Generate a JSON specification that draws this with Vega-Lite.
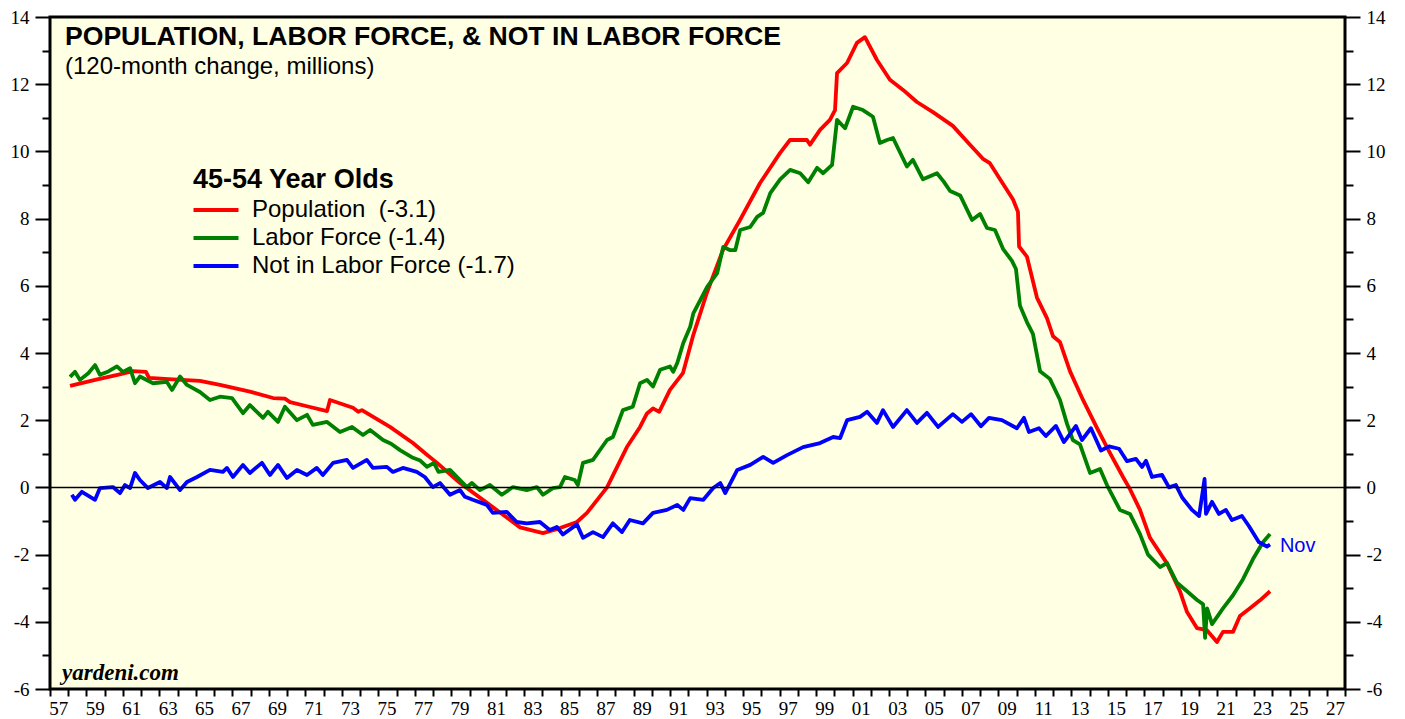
{
"$schema": "https://vega.github.io/schema/vega-lite/v6.json",
"width": 1295, "height": 672,
"autosize": {"type": "none"},
"padding": {"left": 50, "top": 17, "right": 60, "bottom": 30},
"background": "#FFFFFF",
"config": {
  "view": {"stroke": "#000000", "strokeWidth": 3, "fill": "#FFFFE4"},
  "axis": {"domain": false, "grid": false, "labelFont": "Liberation Serif", "labelFontSize": 19, "labelColor": "#000000", "tickColor": "#000000", "tickWidth": 2, "title": null, "labelFlush": false, "labelBound": false, "labelSeparation": 0},
  "legend": {"orient": "none", "legendX": 143, "legendY": 150, "padding": 0, "titleFont": "Liberation Sans", "titleFontSize": 27, "titleFontWeight": "bold", "titleColor": "#000000", "titlePadding": 4, "titleLimit": 600, "labelFont": "Liberation Sans", "labelFontSize": 24, "labelColor": "#000000", "symbolType": "M-5,0H5", "symbolSize": 81, "symbolStrokeWidth": 4, "symbolOffset": 11, "labelOffset": 24, "rowPadding": 4, "labelLimit": 600}
},
"datasets": {
"pop": [
{"year":1958.1,"value":3.02},{"year":1959.47,"value":3.2},{"year":1960.7,"value":3.35},{"year":1961.55,"value":3.46},{"year":1962.26,"value":3.44},{"year":1962.43,"value":3.26},{"year":1963.5,"value":3.22},{"year":1965.22,"value":3.17},{"year":1966.32,"value":3.05},{"year":1967.96,"value":2.85},{"year":1969.23,"value":2.66},{"year":1969.88,"value":2.64},{"year":1970.16,"value":2.54},{"year":1971.2,"value":2.4},{"year":1972.19,"value":2.27},{"year":1972.35,"value":2.6},{"year":1973.61,"value":2.37},{"year":1973.9,"value":2.25},{"year":1974.1,"value":2.3},{"year":1975.64,"value":1.8},{"year":1976.9,"value":1.32},{"year":1977.6,"value":1.0},{"year":1978.22,"value":0.73},{"year":1979.48,"value":0.13},{"year":1980.96,"value":-0.46},{"year":1982.77,"value":-1.19},{"year":1984.03,"value":-1.36},{"year":1984.96,"value":-1.21},{"year":1985.89,"value":-1.03},{"year":1986.44,"value":-0.76},{"year":1987.54,"value":0.0},{"year":1988.63,"value":1.2},{"year":1989.35,"value":1.8},{"year":1989.73,"value":2.2},{"year":1990.06,"value":2.35},{"year":1990.4,"value":2.25},{"year":1990.99,"value":2.9},{"year":1991.7,"value":3.4},{"year":1992.25,"value":4.5},{"year":1993.02,"value":5.8},{"year":1993.9,"value":7.07},{"year":1994.83,"value":7.96},{"year":1995.93,"value":9.06},{"year":1997.02,"value":9.95},{"year":1997.57,"value":10.34},{"year":1998.5,"value":10.34},{"year":1998.67,"value":10.2},{"year":1999.22,"value":10.64},{"year":1999.76,"value":10.94},{"year":2000.04,"value":11.23},{"year":2000.15,"value":12.33},{"year":2000.7,"value":12.63},{"year":2001.24,"value":13.23},{"year":2001.68,"value":13.4},{"year":2002.34,"value":12.72},{"year":2003.05,"value":12.13},{"year":2003.77,"value":11.83},{"year":2004.53,"value":11.47},{"year":2005.41,"value":11.17},{"year":2006.5,"value":10.76},{"year":2007.44,"value":10.2},{"year":2008.15,"value":9.78},{"year":2008.53,"value":9.65},{"year":2009.08,"value":9.18},{"year":2009.8,"value":8.57},{"year":2010.07,"value":8.2},{"year":2010.13,"value":7.17},{"year":2010.56,"value":6.87},{"year":2011.11,"value":5.65},{"year":2011.66,"value":5.04},{"year":2011.99,"value":4.5},{"year":2012.37,"value":4.33},{"year":2012.92,"value":3.46},{"year":2013.63,"value":2.61},{"year":2014.4,"value":1.77},{"year":2015.11,"value":1.03},{"year":2015.83,"value":0.31},{"year":2016.21,"value":-0.05},{"year":2016.76,"value":-0.67},{"year":2017.31,"value":-1.5},{"year":2018.24,"value":-2.26},{"year":2018.95,"value":-3.09},{"year":2019.34,"value":-3.71},{"year":2019.89,"value":-4.19},{"year":2020.43,"value":-4.25},{"year":2020.98,"value":-4.6},{"year":2021.31,"value":-4.3},{"year":2021.86,"value":-4.3},{"year":2022.24,"value":-3.83},{"year":2022.79,"value":-3.6},{"year":2023.34,"value":-3.36},{"year":2023.89,"value":-3.09}
],
"lab": [
{"year":1958.1,"value":3.29},{"year":1958.37,"value":3.44},{"year":1958.64,"value":3.2},{"year":1959.1,"value":3.4},{"year":1959.47,"value":3.64},{"year":1959.74,"value":3.35},{"year":1960.2,"value":3.45},{"year":1960.67,"value":3.6},{"year":1961.0,"value":3.44},{"year":1961.39,"value":3.55},{"year":1961.66,"value":3.1},{"year":1961.93,"value":3.3},{"year":1962.65,"value":3.1},{"year":1963.41,"value":3.14},{"year":1963.69,"value":2.9},{"year":1964.13,"value":3.3},{"year":1964.51,"value":3.05},{"year":1965.22,"value":2.84},{"year":1965.77,"value":2.6},{"year":1966.32,"value":2.7},{"year":1966.98,"value":2.66},{"year":1967.58,"value":2.21},{"year":1967.96,"value":2.45},{"year":1968.68,"value":2.07},{"year":1968.95,"value":2.25},{"year":1969.5,"value":1.95},{"year":1969.88,"value":2.4},{"year":1970.54,"value":2.0},{"year":1971.09,"value":2.16},{"year":1971.41,"value":1.86},{"year":1972.19,"value":1.95},{"year":1972.9,"value":1.65},{"year":1973.56,"value":1.8},{"year":1974.16,"value":1.56},{"year":1974.55,"value":1.71},{"year":1975.26,"value":1.41},{"year":1975.7,"value":1.3},{"year":1976.19,"value":1.11},{"year":1976.9,"value":0.88},{"year":1977.3,"value":0.8},{"year":1977.67,"value":0.61},{"year":1978.05,"value":0.73},{"year":1978.3,"value":0.46},{"year":1978.93,"value":0.52},{"year":1979.48,"value":0.22},{"year":1979.86,"value":0.01},{"year":1980.13,"value":0.13},{"year":1980.57,"value":-0.08},{"year":1981.12,"value":0.07},{"year":1981.77,"value":-0.22},{"year":1982.38,"value":0.01},{"year":1983.14,"value":-0.08},{"year":1983.69,"value":0.01},{"year":1984.03,"value":-0.22},{"year":1984.57,"value":-0.02},{"year":1984.96,"value":0.01},{"year":1985.23,"value":0.31},{"year":1985.77,"value":0.22},{"year":1985.94,"value":0.07},{"year":1986.22,"value":0.73},{"year":1986.77,"value":0.82},{"year":1987.54,"value":1.41},{"year":1987.86,"value":1.5},{"year":1988.41,"value":2.3},{"year":1988.95,"value":2.4},{"year":1989.35,"value":3.1},{"year":1989.73,"value":3.2},{"year":1990.06,"value":3.0},{"year":1990.45,"value":3.5},{"year":1990.99,"value":3.6},{"year":1991.17,"value":3.44},{"year":1991.39,"value":3.7},{"year":1991.72,"value":4.3},{"year":1992.1,"value":4.78},{"year":1992.27,"value":5.18},{"year":1992.65,"value":5.57},{"year":1993.03,"value":5.97},{"year":1993.58,"value":6.38},{"year":1993.91,"value":7.16},{"year":1994.29,"value":7.06},{"year":1994.57,"value":7.06},{"year":1994.84,"value":7.66},{"year":1995.39,"value":7.75},{"year":1995.77,"value":8.05},{"year":1996.1,"value":8.17},{"year":1996.49,"value":8.76},{"year":1997.03,"value":9.17},{"year":1997.58,"value":9.45},{"year":1998.13,"value":9.35},{"year":1998.57,"value":9.08},{"year":1999.06,"value":9.51},{"year":1999.39,"value":9.35},{"year":1999.88,"value":9.6},{"year":2000.15,"value":10.94},{"year":2000.59,"value":10.69},{"year":2001.03,"value":11.33},{"year":2001.57,"value":11.23},{"year":2002.12,"value":11.03},{"year":2002.5,"value":10.25},{"year":2002.89,"value":10.34},{"year":2003.22,"value":10.4},{"year":2003.98,"value":9.55},{"year":2004.31,"value":9.75},{"year":2004.86,"value":9.17},{"year":2005.63,"value":9.35},{"year":2006.0,"value":9.1},{"year":2006.35,"value":8.82},{"year":2006.9,"value":8.69},{"year":2007.55,"value":7.96},{"year":2007.99,"value":8.14},{"year":2008.37,"value":7.72},{"year":2008.81,"value":7.66},{"year":2009.25,"value":7.1},{"year":2009.74,"value":6.74},{"year":2009.96,"value":6.5},{"year":2010.18,"value":5.41},{"year":2010.56,"value":4.92},{"year":2010.89,"value":4.57},{"year":2011.28,"value":3.46},{"year":2011.82,"value":3.23},{"year":2012.37,"value":2.61},{"year":2012.76,"value":1.89},{"year":2013.08,"value":1.41},{"year":2013.47,"value":1.28},{"year":2014.02,"value":0.43},{"year":2014.57,"value":0.55},{"year":2014.95,"value":0.07},{"year":2015.66,"value":-0.67},{"year":2016.21,"value":-0.79},{"year":2016.76,"value":-1.39},{"year":2017.2,"value":-2.0},{"year":2017.86,"value":-2.37},{"year":2018.24,"value":-2.25},{"year":2018.79,"value":-2.84},{"year":2019.34,"value":-3.09},{"year":2019.89,"value":-3.35},{"year":2020.22,"value":-3.48},{"year":2020.33,"value":-4.48},{"year":2020.44,"value":-3.6},{"year":2020.71,"value":-4.07},{"year":2021.31,"value":-3.6},{"year":2021.86,"value":-3.21},{"year":2022.4,"value":-2.74},{"year":2022.95,"value":-2.14},{"year":2023.5,"value":-1.63},{"year":2023.89,"value":-1.39}
],
"nlf": [
{"year":1958.2,"value":-0.22},{"year":1958.37,"value":-0.37},{"year":1958.75,"value":-0.13},{"year":1959.47,"value":-0.37},{"year":1959.74,"value":-0.02},{"year":1960.45,"value":0.01},{"year":1960.84,"value":-0.17},{"year":1961.11,"value":0.07},{"year":1961.39,"value":-0.02},{"year":1961.66,"value":0.43},{"year":1961.93,"value":0.22},{"year":1962.37,"value":-0.02},{"year":1963.03,"value":0.16},{"year":1963.41,"value":-0.02},{"year":1963.58,"value":0.31},{"year":1964.13,"value":-0.08},{"year":1964.51,"value":0.16},{"year":1965.06,"value":0.31},{"year":1965.77,"value":0.52},{"year":1966.48,"value":0.46},{"year":1966.7,"value":0.58},{"year":1967.03,"value":0.31},{"year":1967.58,"value":0.67},{"year":1967.96,"value":0.43},{"year":1968.62,"value":0.73},{"year":1969.06,"value":0.37},{"year":1969.5,"value":0.67},{"year":1969.99,"value":0.28},{"year":1970.54,"value":0.52},{"year":1971.09,"value":0.37},{"year":1971.63,"value":0.58},{"year":1971.96,"value":0.37},{"year":1972.52,"value":0.73},{"year":1973.28,"value":0.82},{"year":1973.61,"value":0.58},{"year":1974.37,"value":0.82},{"year":1974.7,"value":0.58},{"year":1975.47,"value":0.61},{"year":1975.8,"value":0.46},{"year":1976.35,"value":0.58},{"year":1977.11,"value":0.46},{"year":1977.55,"value":0.31},{"year":1977.99,"value":0.01},{"year":1978.38,"value":0.13},{"year":1978.93,"value":-0.22},{"year":1979.48,"value":-0.08},{"year":1979.75,"value":-0.28},{"year":1980.18,"value":-0.37},{"year":1980.95,"value":-0.52},{"year":1981.28,"value":-0.76},{"year":1982.04,"value":-0.73},{"year":1982.59,"value":-1.03},{"year":1983.14,"value":-1.07},{"year":1983.86,"value":-1.03},{"year":1984.4,"value":-1.27},{"year":1984.79,"value":-1.18},{"year":1985.12,"value":-1.4},{"year":1985.89,"value":-1.1},{"year":1986.22,"value":-1.5},{"year":1986.77,"value":-1.33},{"year":1987.32,"value":-1.48},{"year":1987.86,"value":-1.07},{"year":1988.36,"value":-1.33},{"year":1988.79,"value":-0.97},{"year":1989.51,"value":-1.07},{"year":1990.06,"value":-0.76},{"year":1990.82,"value":-0.67},{"year":1991.39,"value":-0.52},{"year":1991.72,"value":-0.67},{"year":1992.1,"value":-0.32},{"year":1992.82,"value":-0.37},{"year":1993.36,"value":-0.02},{"year":1993.75,"value":0.13},{"year":1994.02,"value":-0.17},{"year":1994.68,"value":0.52},{"year":1995.39,"value":0.67},{"year":1996.1,"value":0.91},{"year":1996.65,"value":0.73},{"year":1997.41,"value":0.96},{"year":1998.29,"value":1.2},{"year":1999.22,"value":1.32},{"year":1999.94,"value":1.5},{"year":2000.32,"value":1.47},{"year":2000.7,"value":2.0},{"year":2001.41,"value":2.1},{"year":2001.8,"value":2.25},{"year":2002.34,"value":1.92},{"year":2002.67,"value":2.3},{"year":2003.22,"value":1.8},{"year":2003.98,"value":2.3},{"year":2004.53,"value":1.92},{"year":2005.08,"value":2.22},{"year":2005.69,"value":1.8},{"year":2006.5,"value":2.18},{"year":2007.0,"value":1.95},{"year":2007.5,"value":2.18},{"year":2008.04,"value":1.82},{"year":2008.48,"value":2.07},{"year":2009.19,"value":2.0},{"year":2010.01,"value":1.76},{"year":2010.4,"value":2.07},{"year":2010.67,"value":1.65},{"year":2011.22,"value":1.76},{"year":2011.6,"value":1.53},{"year":2012.15,"value":1.83},{"year":2012.59,"value":1.35},{"year":2013.25,"value":1.83},{"year":2013.58,"value":1.41},{"year":2014.07,"value":1.76},{"year":2014.62,"value":1.1},{"year":2015.06,"value":1.22},{"year":2015.61,"value":1.15},{"year":2016.05,"value":0.78},{"year":2016.54,"value":0.85},{"year":2016.87,"value":0.61},{"year":2017.09,"value":0.79},{"year":2017.42,"value":0.31},{"year":2017.97,"value":0.37},{"year":2018.35,"value":0.0},{"year":2018.73,"value":0.07},{"year":2019.07,"value":-0.3},{"year":2019.61,"value":-0.67},{"year":2020.0,"value":-0.85},{"year":2020.3,"value":0.25},{"year":2020.38,"value":-0.79},{"year":2020.71,"value":-0.43},{"year":2021.09,"value":-0.79},{"year":2021.47,"value":-0.67},{"year":2021.8,"value":-0.97},{"year":2022.35,"value":-0.85},{"year":2022.73,"value":-1.15},{"year":2023.28,"value":-1.63},{"year":2023.72,"value":-1.76},{"year":2023.89,"value":-1.7}
]
},
"layer": [
  {"data": {"name": "pop"},
   "mark": {"type": "line", "strokeWidth": 3.8, "strokeJoin": "round"},
   "encoding": {
     "x": {"field": "year", "type": "quantitative", "scale": {"domain": [1957, 2028], "nice": false, "zero": false},
       "axis": {"orient": "bottom", "values": [1957,1958,1959,1960,1961,1962,1963,1964,1965,1966,1967,1968,1969,1970,1971,1972,1973,1974,1975,1976,1977,1978,1979,1980,1981,1982,1983,1984,1985,1986,1987,1988,1989,1990,1991,1992,1993,1994,1995,1996,1997,1998,1999,2000,2001,2002,2003,2004,2005,2006,2007,2008,2009,2010,2011,2012,2013,2014,2015,2016,2017,2018,2019,2020,2021,2022,2023,2024,2025,2026,2027,2028],
         "tickSize": 7, "labels": false}},
     "y": {"field": "value", "type": "quantitative", "scale": {"domain": [-6, 14], "nice": false, "zero": false},
       "axis": {"orient": "left", "values": [-6,-5,-4,-3,-2,-1,0,1,2,3,4,5,6,7,8,9,10,11,12,13,14],
         "tickSize": {"condition": {"test": "datum.value % 2 === 0", "value": 15}, "value": 8},
         "labelPadding": 6, "labelOverlap": false,
         "labelExpr": "datum.value % 2 === 0 ? '' + datum.value : ''"}},
     "color": {"datum": "Population\u00a0\u00a0(-3.1)", "type": "nominal",
       "scale": {"domain": ["Population\u00a0\u00a0(-3.1)", "Labor Force (-1.4)", "Not in Labor Force (-1.7)"], "range": ["#FF0000", "#008000", "#0000FF"]},
       "legend": {"title": "45-54 Year Olds"}}
   }},
  {"data": {"name": "lab"},
   "mark": {"type": "line", "strokeWidth": 3.8, "strokeJoin": "round"},
   "encoding": {
     "x": {"field": "year", "type": "quantitative", "axis": null},
     "y": {"field": "value", "type": "quantitative", "axis": null},
     "color": {"datum": "Labor Force (-1.4)", "type": "nominal"}
   }},
  {"data": {"name": "nlf"},
   "mark": {"type": "line", "strokeWidth": 3.8, "strokeJoin": "round"},
   "encoding": {
     "x": {"field": "year", "type": "quantitative", "axis": null},
     "y": {"field": "value", "type": "quantitative", "axis": null},
     "color": {"datum": "Not in Labor Force (-1.7)", "type": "nominal"}
   }},
  {"data": {"values": [{}]},
   "mark": {"type": "rule", "color": "#000000", "strokeWidth": 1.5},
   "encoding": {
     "y": {"datum": 0, "type": "quantitative",
       "axis": {"orient": "right", "values": [-6,-5,-4,-3,-2,-1,0,1,2,3,4,5,6,7,8,9,10,11,12,13,14],
         "tickSize": {"condition": {"test": "datum.value % 2 === 0", "value": 15}, "value": 8},
         "labelPadding": 6, "labelOverlap": false,
         "labelExpr": "datum.value % 2 === 0 ? '' + datum.value : ''"}}
   }},
  {"data": {"values": [{"label": "POPULATION, LABOR FORCE, & NOT IN LABOR FORCE", "x": 1957.82, "y": 13.17}]},
   "mark": {"type": "text", "font": "Liberation Sans", "fontSize": 26.6, "fontWeight": "bold", "align": "left", "baseline": "alphabetic", "color": "#000000"},
   "encoding": {"text": {"field": "label"}, "x": {"field": "x", "type": "quantitative", "axis": null}, "y": {"field": "y", "type": "quantitative", "axis": null}}},
  {"data": {"values": [{"label": "(120-month change, millions)", "x": 1957.82, "y": 12.3}]},
   "mark": {"type": "text", "font": "Liberation Sans", "fontSize": 24, "align": "left", "baseline": "alphabetic", "color": "#000000"},
   "encoding": {"text": {"field": "label"}, "x": {"field": "x", "type": "quantitative", "axis": null}, "y": {"field": "y", "type": "quantitative", "axis": null}}},
  {"data": {"values": [{"label": "yardeni.com", "x": 1957.66, "y": -5.73}]},
   "mark": {"type": "text", "font": "Liberation Serif", "fontSize": 23, "fontWeight": "bold", "fontStyle": "italic", "align": "left", "baseline": "alphabetic", "color": "#000000"},
   "encoding": {"text": {"field": "label"}, "x": {"field": "x", "type": "quantitative", "axis": null}, "y": {"field": "y", "type": "quantitative", "axis": null}}},
  {"data": {"values": [{"label": "Nov", "x": 2024.43, "y": -1.92}]},
   "mark": {"type": "text", "font": "Liberation Sans", "fontSize": 20, "align": "left", "baseline": "alphabetic", "color": "#0000FF"},
   "encoding": {"text": {"field": "label"},
     "x": {"field": "x", "type": "quantitative",
       "axis": {"orient": "bottom", "values": [1957.45,1959.45,1961.45,1963.45,1965.45,1967.45,1969.45,1971.45,1973.45,1975.45,1977.45,1979.45,1981.45,1983.45,1985.45,1987.45,1989.45,1991.45,1993.45,1995.45,1997.45,1999.45,2001.45,2003.45,2005.45,2007.45,2009.45,2011.45,2013.45,2015.45,2017.45,2019.45,2021.45,2023.45,2025.45,2027.45],
         "ticks": false, "tickSize": 0, "labelPadding": 10, "labelOverlap": false,
         "labelExpr": "format(floor(datum.value) % 100, '02d')"}},
     "y": {"field": "y", "type": "quantitative", "axis": null}}}
],
"resolve": {"axis": {"x": "independent", "y": "independent"}}
}
